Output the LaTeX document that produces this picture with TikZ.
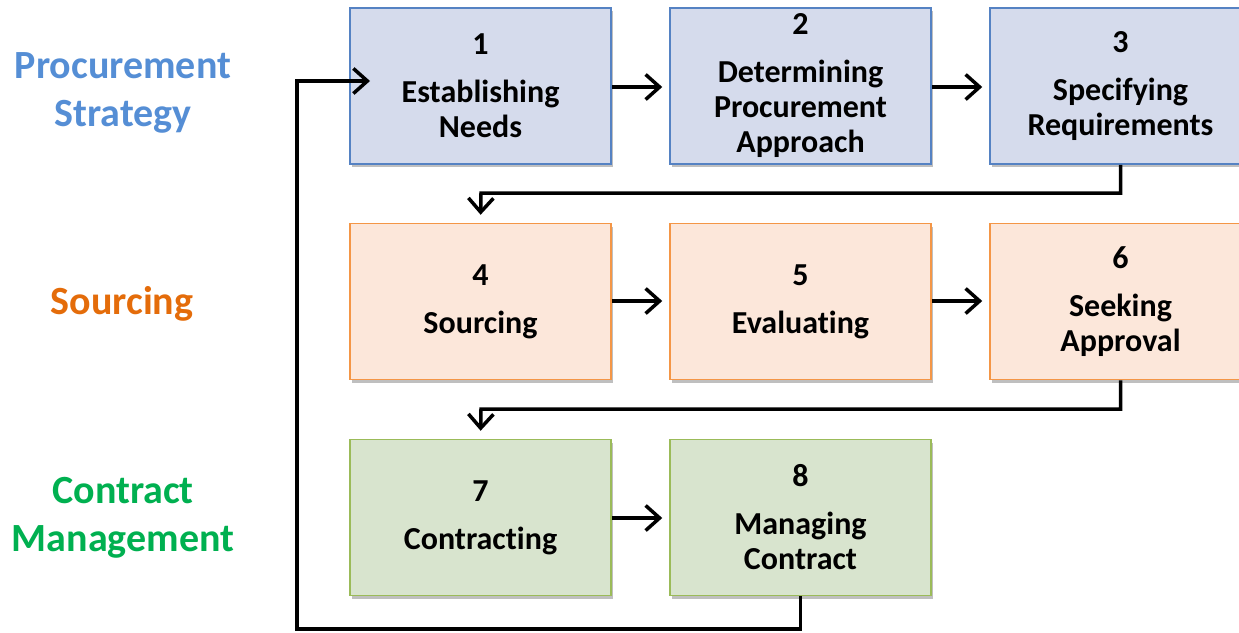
\documentclass[tikz,border=0pt]{standalone}
\usepackage{fontspec}
\setmainfont{Carlito}[Ligatures={NoCommon,NoContextual},Contextuals=NoAlternate]
\usetikzlibrary{arrows.meta,shadows}
\definecolor{bfill}{RGB}{213,219,236}
\definecolor{bline}{RGB}{85,130,195}
\definecolor{ofill}{RGB}{252,231,218}
\definecolor{oline}{RGB}{244,150,70}
\definecolor{gfill}{RGB}{216,228,206}
\definecolor{gline}{RGB}{155,187,89}
\definecolor{tblue}{RGB}{85,142,213}
\definecolor{torange}{RGB}{228,108,10}
\definecolor{tgreen}{RGB}{0,176,80}
\tikzset{
  stepbox/.style={rectangle, minimum width=261pt, minimum height=156pt, line width=1.5pt,
    align=center, inner sep=0pt, font=\fontsize{32}{35}\selectfont\bfseries,
    drop shadow={shadow xshift=2pt, shadow yshift=-3pt, opacity=0.25, fill=black}},
  bbox/.style={stepbox, fill=bfill, draw=bline},
  obox/.style={stepbox, fill=ofill, draw=oline},
  gbox/.style={stepbox, fill=gfill, draw=gline},
  phase/.style={align=center, font=\fontsize{40}{48}\selectfont\bfseries},
  arr/.style={line width=3.5pt, -{Straight Barb[length=14pt,width=25pt]}},
}
\begin{document}
\begin{tikzpicture}[x=1pt,y=-1pt]
\useasboundingbox (0,0) rectangle (1239,632);
\node[bbox] (b1) at (480.5,86) {1\\[13pt]Establishing\\Needs};
\node[bbox] (b2) at (800.5,86) {2\\[13pt]Determining\\Procurement\\Approach};
\node[bbox] (b3) at (1120.5,86) {3\\[13pt]Specifying\\Requirements};
\node[obox] (b4) at (480.5,301.5) {4\\[13pt]Sourcing};
\node[obox] (b5) at (800.5,301.5) {5\\[13pt]Evaluating};
\node[obox] (b6) at (1120.5,301.5) {6\\[13pt]Seeking\\Approval};
\node[gbox] (b7) at (480.5,517.5) {7\\[13pt]Contracting};
\node[gbox] (b8) at (800.5,517.5) {8\\[13pt]Managing\\Contract};

\node[phase, text=tblue] (p1) at (123,93) {Procurement\\Strategy};
\node[phase, text=torange] (p2) at (122,304) {Sourcing};
\node[phase, text=tgreen] (p3) at (123,518) {Contract\\Management};

\coordinate (c1) at (1120.5,193);
\coordinate (c2) at (481,193);
\coordinate (c3) at (1120.5,409);
\coordinate (c4) at (481,409);
\coordinate (l1) at (800.5,629);
\coordinate (l2) at (297,629);
\coordinate (l3) at (297,81);
\coordinate (l4) at (370,81);

\draw[arr, shorten >=7pt] (b1.east |- 0,87) -- (b2.west |- 0,87);
\draw[arr, shorten >=7pt] (b2.east |- 0,87) -- (b3.west |- 0,87);
\draw[arr, shorten >=7pt] (b4.east |- 0,301) -- (b5.west |- 0,301);
\draw[arr, shorten >=7pt] (b5.east |- 0,301) -- (b6.west |- 0,301);
\draw[arr, shorten >=7pt] (b7.east |- 0,518) -- (b8.west |- 0,518);
\draw[arr, shorten >=8pt, line join=miter] (b3.south) -- (c1) -- (c2) -- (b4.north);
\draw[arr, shorten >=8pt, line join=miter] (b6.south) -- (c3) -- (c4) -- (b7.north);
\draw[arr, line join=miter] (b8.south) -- (l1) -- (l2) -- (l3) -- (l4);
\end{tikzpicture}
\end{document}
